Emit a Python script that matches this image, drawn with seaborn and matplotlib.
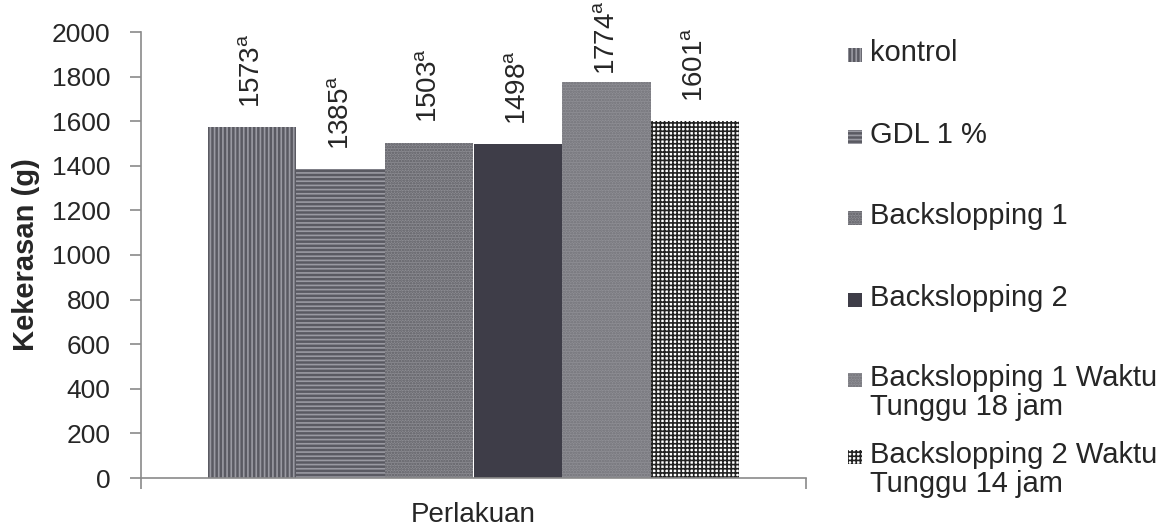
import matplotlib
matplotlib.use("Agg")
import matplotlib.pyplot as plt
import seaborn as sns
import pandas as pd
from matplotlib.patches import Rectangle

categories = ["kontrol", "GDL 1 %", "Backslopping 1", "Backslopping 2",
              "Backslopping 1 Waktu\nTunggu 18 jam", "Backslopping 2 Waktu\nTunggu 14 jam"]
values = [1573, 1385, 1503, 1498, 1774, 1601]
letters = ["a", "a", "a", "a", "a", "a"]
group = ["Perlakuan"] * 6

sns.set_style("white")
plt.rcParams["font.family"] = ["Liberation Sans", "DejaVu Sans"]
plt.rcParams["mathtext.fontset"] = "custom"
plt.rcParams["mathtext.rm"] = "Liberation Sans"
plt.rcParams["mathtext.it"] = "Liberation Sans"
plt.rcParams["hatch.linewidth"] = 1.2

df = pd.DataFrame({"g": group, "cat": categories, "val": values})

faces = ["#5a5a62", "#5a5a62", "#8c8c92", "#3e3d48", "#8f8f95", "#ffffff"]
hatchcols = ["#9a9aa2", "#9a9aa2", "#5e5e64", "#3e3d48", "#727278", "#222222"]
hatches = ["||||", "----", "......", "", "......", "++++"]
label_pad = [14, 14, 14, 14, 5, 14]

W, H = 1167, 526
fig = plt.figure(figsize=(W / 100, H / 100), dpi=100)
ax = fig.add_axes([141 / W, (H - 478) / H, (806 - 141) / W, (478 - 32) / H])

sns.barplot(data=df, x="g", y="val", hue="cat", hue_order=categories,
            palette=faces, width=0.8, dodge=True, saturation=1, legend=False,
            ax=ax, errorbar=None)

for cont, fc, hc, h, v, l, p in zip(ax.containers, faces, hatchcols, hatches,
                                    values, letters, label_pad):
    for bar in cont:
        bar.set_facecolor(fc)
        bar.set_edgecolor(hc)
        bar.set_hatch(h)
        bar.set_linewidth(0)
    ax.bar_label(cont, labels=[f"{v}$^{{\\mathregular{{{l}}}}}$"], rotation=90,
                 padding=p, fontsize=20)

ax.set_ylim(0, 2000)
ax.set_xlim(-0.5, 0.5)
ax.set_yticks(range(0, 2001, 200))
ax.set_xticks([-0.5, 0.5])
ax.set_xticklabels(["", ""])
ax.tick_params(axis="y", labelsize=19, length=8, width=1.2, color="#8a8a8a", left=True, pad=14)
ax.tick_params(axis="x", length=8, width=1.2, color="#8a8a8a", bottom=True)
for s in ["top", "right"]:
    ax.spines[s].set_visible(False)
for s in ["left", "bottom"]:
    ax.spines[s].set_color("#8a8a8a")
    ax.spines[s].set_linewidth(1.2)
ax.set_ylabel("Kekerasan (g)", fontsize=21, fontweight="bold")
ax.yaxis.set_label_coords(-0.152, 0.5)
ax.set_xlabel("Perlakuan", fontsize=20)
ax.xaxis.set_label_coords(0.5, -0.053)
ax.xaxis.label.set_va("top")

# legend (entries at fixed slots like the reference)
row_y = [55, 137, 218, 300, 380, 457]
for cat, fc, hc, h, yc in zip(categories, faces, hatchcols, hatches, row_y):
    sq = Rectangle((848 / W, (H - yc - 7) / H), 14 / W, 14 / H, transform=fig.transFigure,
                   facecolor=fc, edgecolor=hc, hatch=h, linewidth=0)
    fig.add_artist(sq)
    fig.text(870 / W, (H - yc + 16) / H, cat, fontsize=21, va="top", ha="left",
             linespacing=1.05)

fig.savefig("out.png", dpi=100)
